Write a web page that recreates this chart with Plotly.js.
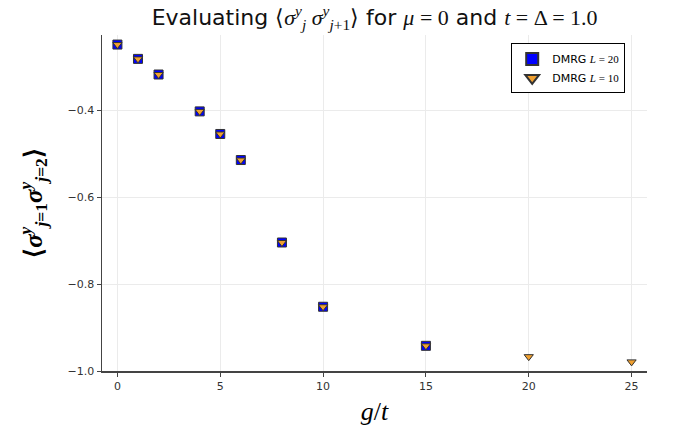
<!DOCTYPE html>
<html>
<head>
<meta charset="utf-8">
<script src="https://cdn.plot.ly/plotly-3.0.1.min.js"></script>
<style>html,body{margin:0;padding:0;background:#fff;}#plot{width:675px;height:432px;}</style>
</head>
<body>
<div id="plot"></div>
<script>
// Data
const gL20 = [0, 1, 2, 4, 5, 6, 8, 10, 15];
const vL20 = [-0.248, -0.281, -0.317, -0.402, -0.454, -0.514, -0.704, -0.852, -0.942];
const gL10 = [0, 1, 2, 4, 5, 6, 8, 10, 15, 20, 25];
const vL10 = [-0.248, -0.281, -0.317, -0.402, -0.454, -0.514, -0.704, -0.852, -0.942, -0.967, -0.979];
const xTicks = [0, 5, 10, 15, 20, 25];
const yTicks = [-1.0, -0.8, -0.6, -0.4];

const serif = 'Liberation Serif';
const traces = [
  {
    x: gL20, y: vL20, mode: 'markers', type: 'scatter',
    name: 'DMRG <span style="font-family:' + serif + '"><i>L</i> = 20</span>',
    marker: {symbol: 'square', size: 9, color: '#0000ff', line: {color: '#333333', width: 1}}
  },
  {
    x: gL10, y: vL10, mode: 'markers', type: 'scatter',
    name: 'DMRG <span style="font-family:' + serif + '"><i>L</i> = 10</span>',
    marker: {symbol: 'triangle-down', size: 8, color: '#f0a030', line: {color: '#333333', width: 1}}
  }
];

const layout = {
  width: 675, height: 432,
  margin: {l: 102, r: 28, t: 35, b: 61},
  paper_bgcolor: '#ffffff', plot_bgcolor: '#ffffff',
  font: {family: 'DejaVu Sans', color: '#333333', size: 11},
  title: {
    text: 'Evaluating <span style="font-family:' + serif + '">⟨<i>σ</i><sup><i>y</i></sup><sub><i>j</i></sub> <i>σ</i><sup><i>y</i></sup><sub><i>j</i>+1</sub>⟩</span> for <span style="font-family:' + serif + '"><i>μ</i> = 0</span> and <span style="font-family:' + serif + '"><i>t</i> = Δ = 1.0</span>',
    font: {family: 'DejaVu Sans', size: 22, color: '#111111'},
    x: 0.555, xanchor: 'center', y: 0.96, yanchor: 'middle'
  },
  xaxis: {
    range: [-0.75, 25.75], tickvals: xTicks, ticktext: xTicks.map(String),
    showgrid: true, gridcolor: '#ebebeb', gridwidth: 1, zeroline: false,
    showline: true, linecolor: '#444444', linewidth: 1.5, mirror: false,
    ticks: 'outside', ticklen: 4, tickcolor: '#444444',
    tickfont: {family: 'DejaVu Sans', size: 11, color: '#333333'},
    title: {text: '<i>g</i>/<i>t</i>', font: {family: serif, size: 26, color: '#000000'}, standoff: 10}
  },
  yaxis: {
    range: [-1.0, -0.226], tickvals: yTicks, ticktext: yTicks.map(v => v.toFixed(1).replace('-', '\u2212')),
    showgrid: true, gridcolor: '#ebebeb', gridwidth: 1, zeroline: false,
    showline: true, linecolor: '#444444', linewidth: 1.5, mirror: false,
    ticks: 'outside', ticklen: 4, tickcolor: '#444444',
    tickfont: {family: 'DejaVu Sans', size: 11, color: '#333333'},
    title: {text: '<b>⟨<i>σ</i><sup><i>y</i></sup><sub><i>j</i>=1</sub><i>σ</i><sup><i>y</i></sup><sub><i>j</i>=2</sub>⟩</b>', font: {family: serif, size: 25, color: '#000000'}, standoff: 18}
  },
  showlegend: true,
  legend: {
    x: 0.96, xanchor: 'right', y: 0.975, yanchor: 'top',
    bgcolor: '#ffffff', bordercolor: '#000000', borderwidth: 1,
    font: {family: 'DejaVu Sans', size: 11, color: '#000000'},
    tracegroupgap: 0, itemwidth: 30, itemsizing: 'constant'
  }
};

Plotly.newPlot('plot', traces, layout, {staticPlot: true, displayModeBar: false});
</script>
</body>
</html>
